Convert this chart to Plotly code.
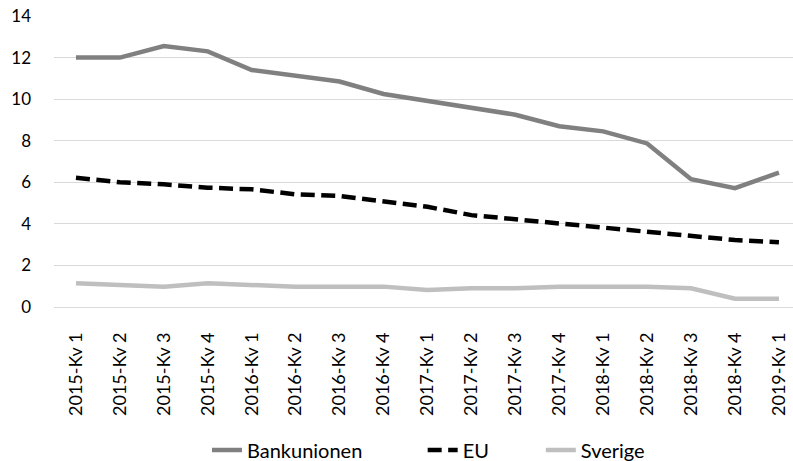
import plotly.graph_objects as go

quarters = [
    "2015-Kv 1", "2015-Kv 2", "2015-Kv 3", "2015-Kv 4",
    "2016-Kv 1", "2016-Kv 2", "2016-Kv 3", "2016-Kv 4",
    "2017-Kv 1", "2017-Kv 2", "2017-Kv 3", "2017-Kv 4",
    "2018-Kv 1", "2018-Kv 2", "2018-Kv 3", "2018-Kv 4",
    "2019-Kv 1",
]
bankunionen = [12.0, 12.0, 12.55, 12.3, 11.4, 11.15, 10.85, 10.25,
               9.92, 9.6, 9.25, 8.7, 8.45, 7.87, 6.15, 5.72, 6.46]
eu = [6.22, 6.0, 5.9, 5.74, 5.66, 5.42, 5.34, 5.06,
      4.82, 4.42, 4.22, 4.0, 3.82, 3.6, 3.43, 3.22, 3.11]
sverige = [1.14, 1.06, 0.98, 1.14, 1.06, 0.98, 0.98, 0.98,
           0.82, 0.9, 0.9, 0.98, 0.98, 0.98, 0.9, 0.4, 0.4]
y_ticks = [0, 2, 4, 6, 8, 10, 12, 14]

FONT = "Lato, 'Open Sans', sans-serif"

fig = go.Figure()
fig.add_trace(go.Scatter(x=quarters, y=bankunionen, name="Bankunionen", mode="lines",
                         line=dict(color="#808080", width=4.5), legend="legend"))
fig.add_trace(go.Scatter(x=quarters, y=eu, name="EU", mode="lines",
                         line=dict(color="#000000", width=4.5, dash="14px,6.5px"),
                         legend="legend2"))
fig.add_trace(go.Scatter(x=quarters, y=sverige, name="Sverige", mode="lines",
                         line=dict(color="#bfbfbf", width=4.5), legend="legend3"))


def legend_box(x_left):
    # one entry per legend box, placed along the bottom of the page
    return dict(orientation="h", xref="container", yref="container",
                x=x_left, xanchor="left", y=0.024, yanchor="middle",
                font=dict(family=FONT, size=20, color="#000000"),
                itemwidth=30, bgcolor="rgba(0,0,0,0)")


fig.update_layout(
    width=793, height=461,
    margin=dict(l=54, r=0, t=16, b=154),
    paper_bgcolor="white", plot_bgcolor="white",
    font=dict(family=FONT, size=18, color="#000000"),
    showlegend=True,
    legend=legend_box(0.261),
    legend2=legend_box(0.533),
    legend3=legend_box(0.682),
    xaxis=dict(type="category", range=[-0.5, 16.32], tickangle=-90,
               showgrid=False, showline=False, zeroline=False, ticks="",
               ticklabelstandoff=21, tickfont=dict(size=18), automargin=False),
    yaxis=dict(range=[0, 14], tickvals=y_ticks, showgrid=True, gridcolor="#d9d9d9",
               gridwidth=1, zeroline=True, zerolinecolor="#d9d9d9", zerolinewidth=1,
               showline=False, ticks="", ticklabelstandoff=22, tickfont=dict(size=17),
               automargin=False),
)

fig.write_html("out.html")
